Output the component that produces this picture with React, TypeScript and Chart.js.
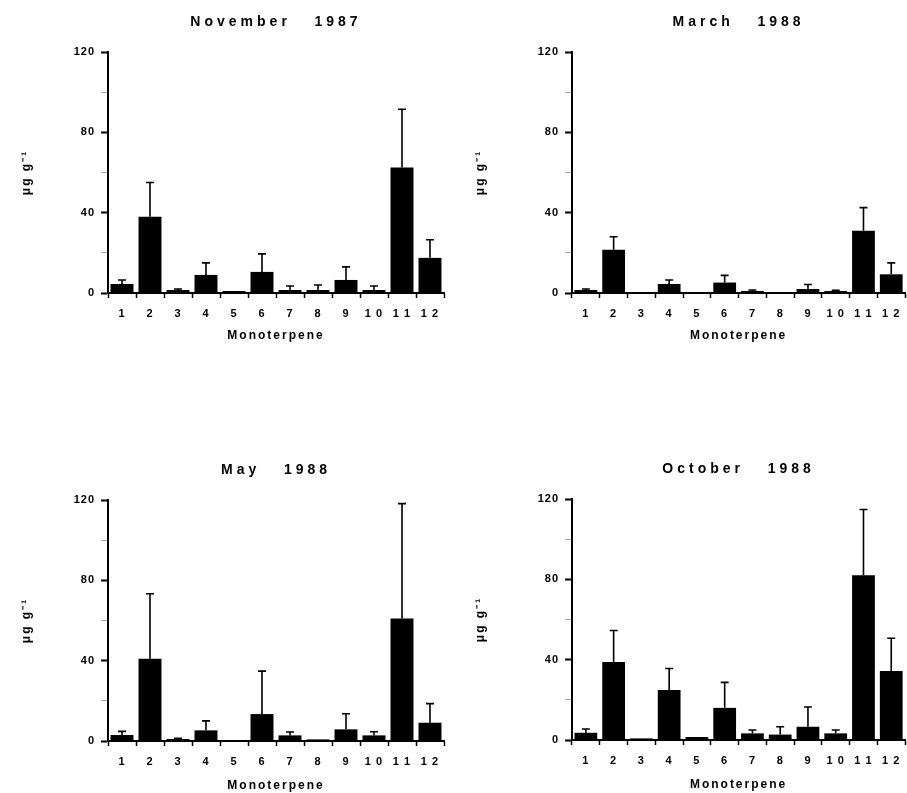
import React, { useEffect, useRef } from 'react';
import { Chart, registerables } from 'chart.js';

Chart.register(...registerables);

const categories = ['1', '2', '3', '4', '5', '6', '7', '8', '9', '1 0', '1 1', '1 2'];
const yTickValues = [0, 40, 80, 120];

const novTitle = 'November   1987';
const novMean = [4.5, 38, 1.5, 9, 1, 10.5, 1.5, 1.5, 6.5, 1.5, 62.5, 17.5];
const novErr = [2, 17, 0.5, 6, 0, 9, 2, 2.5, 6.5, 2, 29, 9];

const marTitle = 'March   1988';
const marMean = [1.5, 21.5, 0.5, 4.5, 0.2, 5.2, 1, 0.3, 2, 1, 31, 9.3];
const marErr = [0.5, 6.5, 0, 2, 0, 3.6, 0.5, 0, 2.2, 0.3, 11.5, 5.7];

const mayTitle = 'May   1988';
const mayMean = [3, 41, 1, 5.3, 0, 13.4, 2.8, 0.8, 5.8, 2.8, 61, 9.1];
const mayErr = [1.8, 32.3, 0.3, 4.7, 0, 21.4, 1.7, 0, 7.8, 1.8, 57.2, 9.5];

const octTitle = 'October   1988';
const octMean = [3.6, 38.8, 0.8, 24.9, 1.5, 16, 3.3, 2.7, 6.6, 3.3, 82, 34.3];
const octErr = [1.9, 15.7, 0, 10.7, 0, 12.7, 1.7, 3.9, 9.8, 1.7, 32.8, 16.4];

const yTitle = 'μg g⁻¹';
const xTitle = 'Monoterpene';

const FONT = '"Liberation Sans", Arial, Helvetica, sans-serif';

const errorBarPlugin = {
  id: 'errorBars',
  afterDatasetsDraw(chart: any, _args: any, opts: any) {
    const errs: number[] = opts.errors || [];
    const vals = chart.data.datasets[0].data as number[];
    const meta = chart.getDatasetMeta(0);
    const ys = chart.scales.y;
    const ctx = chart.ctx;
    ctx.save();
    ctx.strokeStyle = '#000';
    ctx.lineWidth = 1.6;
    meta.data.forEach((bar: any, i: number) => {
      const e = errs[i];
      if (!e) return;
      const x = bar.x;
      const y0 = ys.getPixelForValue(vals[i]);
      const y1 = ys.getPixelForValue(vals[i] + e);
      ctx.beginPath();
      ctx.moveTo(x, y0);
      ctx.lineTo(x, y1);
      ctx.moveTo(x - 4, y1);
      ctx.lineTo(x + 4, y1);
      ctx.stroke();
    });
    ctx.restore();
  },
};

// letter spacing depending on the font size of the text being drawn
const spacingPlugin = {
  id: 'spacing',
  beforeDraw(chart: any) {
    const ctx = chart.ctx;
    if (ctx.__spaced) return;
    ctx.__spaced = true;
    const orig = ctx.fillText;
    ctx.fillText = function (text: string, x: number, y: number, mw?: number) {
      const m = /(\d+(?:\.\d+)?)px/.exec(this.font);
      const size = m ? Number(m[1]) : 12;
      this.letterSpacing = size >= 14 ? '4px' : size >= 12 ? '2px' : '1px';
      const r = mw === undefined ? orig.call(this, text, x, y) : orig.call(this, text, x, y, mw);
      this.letterSpacing = '0px';
      return r;
    };
  },
};

type PanelProps = {
  title: string;
  means: number[];
  errs: number[];
  left: number;
  top: number;
  width: number;
  height: number;
  axisX: number;
  padRight: number;
  xTitlePad: number;
};

function Panel(p: PanelProps) {
  const ref = useRef<HTMLCanvasElement | null>(null);
  useEffect(() => {
    if (!ref.current) return;
    const chart = new Chart(ref.current, {
      type: 'bar',
      data: {
        labels: categories,
        datasets: [
          {
            data: p.means,
            backgroundColor: '#000',
            borderWidth: 0,
            barPercentage: 0.82,
            categoryPercentage: 1.0,
          },
        ],
      },
      plugins: [spacingPlugin, errorBarPlugin],
      options: {
        animation: false,
        responsive: false,
        devicePixelRatio: 1,
        layout: { padding: { left: 0, right: p.padRight, top: 0, bottom: 0 } },
        plugins: {
          legend: { display: false },
          tooltip: { enabled: false },
          title: {
            display: true,
            text: p.title,
            fullSize: false,
            color: '#000',
            font: { family: FONT, size: 14, weight: 'bold' },
            padding: { top: 13.6, bottom: 21.6 },
          },
          errorBars: { errors: p.errs },
        } as any,
        scales: {
          x: {
            offset: true,
            ticks: {
              color: '#000',
              font: { family: FONT, size: 11, weight: 'bold' },
              padding: 9,
              autoSkip: false,
              maxRotation: 0,
            },
            grid: {
              drawOnChartArea: false,
              drawTicks: true,
              tickLength: 5,
              tickColor: '#000',
              tickWidth: 1.5,
              offset: true,
            },
            border: { color: '#000', width: 2 },
            title: {
              display: true,
              text: xTitle,
              color: '#000',
              font: { family: FONT, size: 12, weight: 'bold' },
              padding: { top: 0, bottom: p.xTitlePad },
            },
            afterFit: (s: any) => {
              s.height = 53;
            },
          },
          y: {
            min: 0,
            max: 120,
            ticks: {
              stepSize: 20,
              color: '#000',
              font: { family: FONT, size: 11, weight: 'bold' },
              padding: 6,
              callback: (v: any) => (yTickValues.includes(Number(v)) ? String(v) : ''),
            },
            grid: {
              drawOnChartArea: false,
              drawTicks: true,
              tickLength: 7,
              tickColor: (c: any) => (c.tick && c.tick.value % 40 === 0 ? '#000' : 'rgba(0,0,0,0.35)'),
              tickWidth: (c: any) => (c.tick && c.tick.value % 40 === 0 ? 2 : 1),
            },
            border: { color: '#000', width: 2 },
            title: {
              display: true,
              text: yTitle,
              color: '#000',
              font: { family: FONT, size: 12, weight: 'bold' },
              padding: { top: 19, bottom: 0 },
            },
            afterFit: (s: any) => {
              s.width = p.axisX;
            },
          },
        } as any,
      },
    });
    return () => chart.destroy();
  }, []);
  return (
    <div style={{ position: 'absolute', left: p.left, top: p.top, width: p.width, height: p.height }}>
      <canvas ref={ref} width={p.width} height={p.height} style={{ width: p.width, height: p.height, display: 'block' }} />
    </div>
  );
}

export default function App() {
  return (
    <div
      style={{
        position: 'absolute',
        left: 0,
        top: 0,
        width: 907,
        height: 793,
        overflow: 'hidden',
        background: '#fff',
      }}
    >
      <Panel title={novTitle} means={novMean} errs={novErr} left={0} top={0} width={454} height={346} axisX={108} padRight={10} xTitlePad={3.6} />
      <Panel title={marTitle} means={marMean} errs={marErr} left={454} top={0} width={454} height={346} axisX={118} padRight={0} xTitlePad={3.6} />
      <Panel title={mayTitle} means={mayMean} errs={mayErr} left={0} top={448} width={454} height={346} axisX={108} padRight={10} xTitlePad={1} />
      <Panel title={octTitle} means={octMean} errs={octErr} left={454} top={447} width={454} height={346} axisX={118} padRight={0} xTitlePad={1} />
    </div>
  );
}
